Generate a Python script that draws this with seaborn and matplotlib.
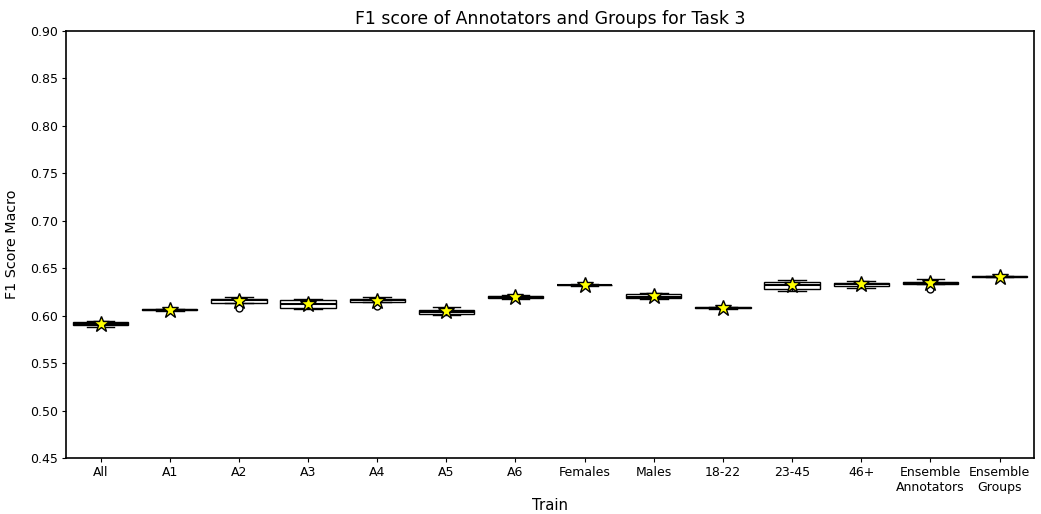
import matplotlib
matplotlib.use('Agg')
import matplotlib.pyplot as plt
import seaborn as sns
import pandas as pd

# F1 macro per run
groups = ['All', 'A1', 'A2', 'A3', 'A4', 'A5', 'A6', 'Females', 'Males',
          '18-22', '23-45', '46+', 'Ensemble\nAnnotators', 'Ensemble\nGroups']
f1_all = [0.5877, 0.5898, 0.5910, 0.5930, 0.5944]
f1_a1 = [0.6052, 0.6059, 0.6063, 0.6066, 0.6072]
f1_a2 = [0.6078, 0.6137, 0.6160, 0.6176, 0.6194]
f1_a3 = [0.6073, 0.6084, 0.6123, 0.6165, 0.6179]
f1_a4 = [0.6102, 0.6147, 0.6160, 0.6172, 0.6200]
f1_a5 = [0.6004, 0.6021, 0.6040, 0.6063, 0.6088]
f1_a6 = [0.6180, 0.6188, 0.6198, 0.6206, 0.6215]
f1_females = [0.6312, 0.6318, 0.6322, 0.6326, 0.6333]
f1_males = [0.6180, 0.6186, 0.6200, 0.6228, 0.6235]
f1_18_22 = [0.6072, 0.6079, 0.6084, 0.6088, 0.6094]
f1_23_45 = [0.6263, 0.6284, 0.6320, 0.6352, 0.6376]
f1_46p = [0.6295, 0.6313, 0.6330, 0.6344, 0.6368]
f1_ens_ann = [0.6281, 0.6334, 0.6345, 0.6358, 0.6383]
f1_ens_grp = [0.6402, 0.6407, 0.6411, 0.6414, 0.6420]

runs = [f1_all, f1_a1, f1_a2, f1_a3, f1_a4, f1_a5, f1_a6, f1_females, f1_males,
        f1_18_22, f1_23_45, f1_46p, f1_ens_ann, f1_ens_grp]

rows = []
for g, vals in zip(groups, runs):
    for v in vals:
        rows.append((g, v))
df = pd.DataFrame(rows, columns=['Train', 'F1'])

fig = plt.figure(figsize=(10.41, 5.14), dpi=100)
ax = fig.add_axes([0.0634, 0.109, 0.93, 0.831])

sns.boxplot(data=df, x='Train', y='F1', order=groups, color='white', linecolor='black',
            width=0.8, linewidth=1, showmeans=True, ax=ax,
            meanprops=dict(marker='*', markerfacecolor='yellow', markeredgecolor='black',
                           markersize=12),
            flierprops=dict(marker='o', markerfacecolor='white', markeredgecolor='black',
                            markersize=5),
            medianprops=dict(color='black', linewidth=1.5))

ax.set_ylim(0.45, 0.90)
ax.set_yticks([0.45, 0.50, 0.55, 0.60, 0.65, 0.70, 0.75, 0.80, 0.85, 0.90])
ax.tick_params(labelsize=9, length=3, pad=2.5)
for s in ax.spines.values():
    s.set_linewidth(1.2)
ax.set_title('F1 score of Annotators and Groups for Task 3', fontsize=12.4, pad=5)
ax.set_xlabel('Train', fontsize=10.7, labelpad=3)
ax.set_ylabel('F1 Score Macro', fontsize=10.3, labelpad=8)

fig.savefig('out.png', dpi=100)
